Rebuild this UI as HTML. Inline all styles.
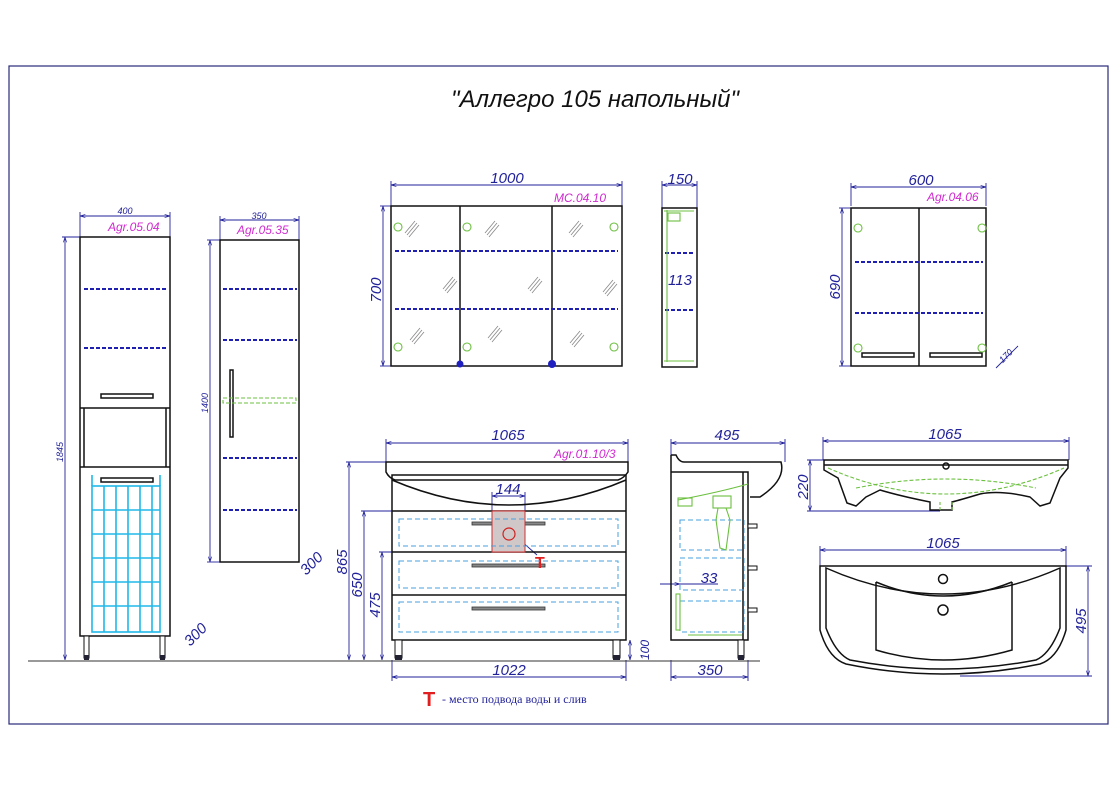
<!DOCTYPE html>
<html><head><meta charset="utf-8"><style>
html,body{margin:0;padding:0;background:#fff;}
svg{display:block;}
text{font-family:"Liberation Sans",sans-serif;font-style:italic;}
</style></head><body>
<svg width="1117" height="789" viewBox="0 0 1117 789" xmlns="http://www.w3.org/2000/svg">
<defs>
<marker id="a" viewBox="0 0 10 10" refX="10" refY="5" markerWidth="6" markerHeight="6" orient="auto-start-reverse"><path d="M0,2 L10,5 L0,8" fill="none" stroke="#22229a" stroke-width="1.2"/></marker>
</defs>
<rect x="9" y="66" width="1099" height="658" fill="none" stroke="#2a2a7a" stroke-width="1.2"/>
<text x="595" y="107" font-size="24" text-anchor="middle" fill="#111">"Аллегро 105 напольный"</text>

<g stroke="#22229a" stroke-width="0.9" fill="none">
<line x1="80" y1="216" x2="170" y2="216" marker-start="url(#a)" marker-end="url(#a)"/>
<line x1="80" y1="212" x2="80" y2="237"/><line x1="170" y1="212" x2="170" y2="237"/>
<line x1="65" y1="237" x2="65" y2="660" marker-start="url(#a)" marker-end="url(#a)"/>
<line x1="62" y1="237" x2="80" y2="237"/>
<line x1="220" y1="220" x2="299" y2="220" marker-start="url(#a)" marker-end="url(#a)"/>
<line x1="220" y1="216" x2="220" y2="240"/><line x1="299" y1="216" x2="299" y2="240"/>
<line x1="210" y1="240" x2="210" y2="562" marker-start="url(#a)" marker-end="url(#a)"/>
<line x1="207" y1="240" x2="220" y2="240"/><line x1="207" y1="562" x2="220" y2="562"/>
<line x1="391" y1="185" x2="622" y2="185" marker-start="url(#a)" marker-end="url(#a)"/>
<line x1="391" y1="181" x2="391" y2="206"/><line x1="622" y1="181" x2="622" y2="206"/>
<line x1="383" y1="206" x2="383" y2="366" marker-start="url(#a)" marker-end="url(#a)"/>
<line x1="380" y1="206" x2="391" y2="206"/><line x1="380" y1="366" x2="391" y2="366"/>
<line x1="662" y1="185" x2="697" y2="185" marker-start="url(#a)" marker-end="url(#a)"/>
<line x1="662" y1="181" x2="662" y2="208"/><line x1="697" y1="181" x2="697" y2="208"/>
<line x1="851" y1="187" x2="986" y2="187" marker-start="url(#a)" marker-end="url(#a)"/>
<line x1="851" y1="183" x2="851" y2="206"/><line x1="986" y1="183" x2="986" y2="206"/>
<line x1="842" y1="208" x2="842" y2="366" marker-start="url(#a)" marker-end="url(#a)"/>
<line x1="839" y1="208" x2="851" y2="208"/><line x1="839" y1="366" x2="851" y2="366"/>
<line x1="996" y1="368" x2="1018" y2="346"/>
<line x1="386" y1="443" x2="628" y2="443" marker-start="url(#a)" marker-end="url(#a)"/>
<line x1="386" y1="439" x2="386" y2="462"/><line x1="628" y1="439" x2="628" y2="462"/>
<line x1="349" y1="462" x2="349" y2="660" marker-start="url(#a)" marker-end="url(#a)"/>
<line x1="346" y1="462" x2="386" y2="462"/>
<line x1="364" y1="511" x2="364" y2="660" marker-start="url(#a)" marker-end="url(#a)"/>
<line x1="361" y1="511" x2="392" y2="511"/>
<line x1="382" y1="552" x2="382" y2="660" marker-start="url(#a)" marker-end="url(#a)"/>
<line x1="379" y1="552" x2="460" y2="552"/>
<line x1="630" y1="640" x2="630" y2="660" marker-start="url(#a)" marker-end="url(#a)"/>
<line x1="492" y1="496" x2="525" y2="496" marker-start="url(#a)" marker-end="url(#a)"/>
<line x1="492" y1="492" x2="492" y2="511"/><line x1="525" y1="492" x2="525" y2="511"/>
<line x1="392" y1="677" x2="626" y2="677" marker-start="url(#a)" marker-end="url(#a)"/>
<line x1="392" y1="660" x2="392" y2="681"/><line x1="626" y1="660" x2="626" y2="681"/>
<line x1="520" y1="540" x2="537" y2="555"/>
<line x1="671" y1="443" x2="785" y2="443" marker-start="url(#a)" marker-end="url(#a)"/>
<line x1="671" y1="439" x2="671" y2="462"/><line x1="785" y1="439" x2="785" y2="462"/>
<line x1="671" y1="677" x2="748" y2="677" marker-start="url(#a)" marker-end="url(#a)"/>
<line x1="671" y1="660" x2="671" y2="681"/><line x1="748" y1="660" x2="748" y2="681"/>
<line x1="660" y1="584" x2="680" y2="584" marker-end="url(#a)"/>
<line x1="680" y1="584" x2="718" y2="584"/>
<line x1="823" y1="441" x2="1069" y2="441" marker-start="url(#a)" marker-end="url(#a)"/>
<line x1="823" y1="437" x2="823" y2="460"/><line x1="1069" y1="437" x2="1069" y2="460"/>
<line x1="810" y1="460" x2="810" y2="511" marker-start="url(#a)" marker-end="url(#a)"/>
<line x1="807" y1="460" x2="824" y2="460"/><line x1="807" y1="511" x2="940" y2="511"/>
<line x1="820" y1="550" x2="1066" y2="550" marker-start="url(#a)" marker-end="url(#a)"/>
<line x1="820" y1="546" x2="820" y2="566"/><line x1="1066" y1="546" x2="1066" y2="566"/>
<line x1="1088" y1="566" x2="1088" y2="676" marker-start="url(#a)" marker-end="url(#a)"/>
<line x1="1066" y1="566" x2="1092" y2="566"/><line x1="960" y1="676" x2="1092" y2="676"/>
</g>

<g fill="#22229a" font-size="15">
<text x="125" y="214" font-size="9" text-anchor="middle">400</text>
<text transform="translate(63,452) rotate(-90)" font-size="9" text-anchor="middle">1845</text>
<text x="259" y="219" font-size="9" text-anchor="middle">350</text>
<text transform="translate(208,403) rotate(-90)" font-size="9" text-anchor="middle">1400</text>
<text transform="translate(199,638) rotate(-45)" text-anchor="middle">300</text>
<text transform="translate(315,567) rotate(-45)" text-anchor="middle">300</text>
<text x="507" y="183" text-anchor="middle">1000</text>
<text transform="translate(381,290) rotate(-90)" text-anchor="middle">700</text>
<text x="680" y="184" text-anchor="middle">150</text>
<text x="680" y="285" text-anchor="middle">113</text>
<text x="921" y="185" text-anchor="middle">600</text>
<text transform="translate(840,287) rotate(-90)" text-anchor="middle">690</text>
<text transform="translate(1008,358) rotate(-45)" font-size="9" text-anchor="middle">170</text>
<text x="508" y="440" text-anchor="middle">1065</text>
<text x="508" y="494" text-anchor="middle">144</text>
<text transform="translate(347,562) rotate(-90)" text-anchor="middle">865</text>
<text transform="translate(362,585) rotate(-90)" text-anchor="middle">650</text>
<text transform="translate(380,605) rotate(-90)" text-anchor="middle">475</text>
<text transform="translate(649,650) rotate(-90)" font-size="12" text-anchor="middle">100</text>
<text x="509" y="675" text-anchor="middle">1022</text>
<text x="727" y="440" text-anchor="middle">495</text>
<text x="709" y="583" text-anchor="middle">33</text>
<text x="710" y="675" text-anchor="middle">350</text>
<text x="945" y="439" text-anchor="middle">1065</text>
<text transform="translate(808,487) rotate(-90)" text-anchor="middle">220</text>
<text x="943" y="548" text-anchor="middle">1065</text>
<text transform="translate(1086,621) rotate(-90)" text-anchor="middle">495</text>
</g>
<g fill="#d02ad0" font-size="12">
<text x="237" y="234">Agr.05.35</text>
<text x="108" y="231">Agr.05.04</text>
<text x="554" y="202">MC.04.10</text>
<text x="927" y="201">Agr.04.06</text>
<text x="554" y="458">Agr.01.10/3</text>
</g>

<line x1="28" y1="661" x2="760" y2="661" stroke="#333" stroke-width="1"/>

<g stroke="#111" stroke-width="1.5" fill="none">
<rect x="80" y="237" width="90" height="399"/>
<line x1="80" y1="408" x2="170" y2="408"/><line x1="80" y1="467" x2="170" y2="467"/>
<line x1="84" y1="408" x2="84" y2="467"/><line x1="166" y1="408" x2="166" y2="467"/>
<rect x="101" y="394" width="52" height="4"/>
<rect x="101" y="478" width="52" height="4"/>
<rect x="220" y="240" width="79" height="322"/>
<rect x="230" y="370" width="3" height="67"/>
<rect x="391" y="206" width="231" height="160"/>
<line x1="460" y1="206" x2="460" y2="366"/><line x1="552" y1="206" x2="552" y2="366"/>
<rect x="662" y="208" width="35" height="159"/>
<rect x="851" y="208" width="135" height="158"/>
<line x1="919" y1="208" x2="919" y2="366"/>
<rect x="862" y="353" width="52" height="4"/><rect x="930" y="353" width="52" height="4"/>
<path d="M386,462 L628,462 L628,472 Q624,478 618,480 L395,480 Q389,478 386,472 Z"/>
<rect x="392" y="475" width="234" height="165"/>
<path d="M392,480 Q509,530 626,480"/>
<line x1="392" y1="511" x2="626" y2="511"/><line x1="392" y1="552" x2="626" y2="552"/><line x1="392" y1="595" x2="626" y2="595"/>
<path d="M671,455 L671,472 L748,472 L748,640 L671,640 Z"/>
<path d="M671,455 L676,455 Q679,462 684,462 L781,462 Q786,480 760,497 L750,497"/>
<line x1="743" y1="472" x2="743" y2="640"/>
<path d="M824,460 L1068,460 L1068,468 L1060,478 L1050,503 L1040,506 L1030,497 Q1000,490 980,494 Q960,500 952,502 L952,510 L930,510 L930,502 Q900,496 880,490 L866,497 L856,506 L847,503 L838,478 L824,470 Z"/>
<line x1="824" y1="465" x2="1068" y2="465"/>
<circle cx="946" cy="466" r="3"/>
<path d="M820,566 L1066,566 L1066,630 Q1058,658 1040,664 Q943,684 846,664 Q828,658 820,630 Z"/>
<path d="M826,568 Q943,620 1060,568 L1060,628 Q1050,654 1036,660 Q943,678 850,660 Q836,654 826,628 Z"/>
<path d="M876,582 L876,650 Q943,670 1012,650 L1012,582"/>
<path d="M876,582 Q943,610 1012,582"/>
<circle cx="943" cy="579" r="4.5"/><circle cx="943" cy="610" r="5"/>
</g>
<g fill="#fff" stroke="#111" stroke-width="1">
<rect x="84" y="636" width="5" height="22"/><rect x="160" y="636" width="5" height="22"/>
<rect x="395" y="640" width="7" height="18"/><rect x="613" y="640" width="7" height="18"/>
<rect x="738" y="640" width="6" height="18"/>
<rect x="748" y="524" width="9" height="4"/><rect x="748" y="566" width="9" height="4"/><rect x="748" y="608" width="9" height="4"/>
</g>
<g fill="#223">
<rect x="84" y="655" width="5" height="5"/><rect x="160" y="655" width="5" height="5"/>
<rect x="395" y="655" width="7" height="5"/><rect x="613" y="655" width="7" height="5"/><rect x="738" y="655" width="6" height="5"/>
</g>
<g fill="#888" stroke="#333" stroke-width="0.8">
<rect x="472" y="522" width="73" height="3"/><rect x="472" y="564" width="73" height="3"/><rect x="472" y="607" width="73" height="3"/>
</g>
<rect x="492" y="511" width="33" height="41" fill="#d0c8c8" stroke="#d03030" stroke-width="1"/>
<circle cx="509" cy="534" r="6" fill="none" stroke="#d02020" stroke-width="1.2"/>
<text x="535" y="568" font-size="16" font-weight="bold" fill="#e02020" style="font-style:normal">T</text>
<text x="423" y="706" font-size="20" font-weight="bold" fill="#e02020" style="font-style:normal">T</text>
<text x="442" y="703" font-size="12" fill="#22229a" style="font-family:'Liberation Serif',serif;font-style:normal">- место подвода воды и слив</text>

<g stroke="#2020b0" stroke-width="2" stroke-dasharray="4,2">
<line x1="84" y1="289" x2="167" y2="289"/><line x1="84" y1="348" x2="167" y2="348"/>
<line x1="223" y1="289" x2="297" y2="289"/><line x1="223" y1="340" x2="297" y2="340"/>
<line x1="223" y1="458" x2="297" y2="458"/><line x1="223" y1="510" x2="297" y2="510"/>
<line x1="395" y1="251" x2="618" y2="251"/><line x1="395" y1="309" x2="618" y2="309"/>
<line x1="665" y1="253" x2="695" y2="253"/><line x1="665" y1="310" x2="695" y2="310"/>
<line x1="855" y1="262" x2="983" y2="262"/><line x1="855" y1="313" x2="983" y2="313"/>
</g>
<g stroke="#4aa0e0" stroke-width="1" stroke-dasharray="5,3" fill="none">
<rect x="399" y="519" width="219" height="27"/><rect x="399" y="561" width="219" height="27"/><rect x="399" y="602" width="219" height="30"/>
<rect x="680" y="520" width="64" height="30"/><rect x="680" y="558" width="64" height="32"/><rect x="680" y="601" width="64" height="31"/>
</g>
<g stroke="#20b8e8" stroke-width="1.6" fill="none">
<rect x="92" y="486" width="68" height="146"/>
<path d="M92,475 L92,486 M160,475 L160,486"/>
<path d="M104,486V632M116,486V632M128,486V632M140,486V632M152,486V632"/>
<path d="M92,510H160M92,534H160M92,558H160M92,582H160M92,606H160"/>
</g>
<g stroke="#6cc040" stroke-width="1.1" fill="none">
<rect x="223" y="398" width="73" height="5" stroke-dasharray="4,2"/>
<circle cx="398" cy="227" r="4"/><circle cx="467" cy="227" r="4"/><circle cx="614" cy="227" r="4"/>
<circle cx="398" cy="347" r="4"/><circle cx="467" cy="347" r="4"/><circle cx="614" cy="347" r="4"/>
<circle cx="858" cy="228" r="4"/><circle cx="982" cy="228" r="4"/><circle cx="858" cy="348" r="4"/><circle cx="982" cy="348" r="4"/>
<line x1="667" y1="210" x2="667" y2="362"/><line x1="664" y1="211" x2="694" y2="211"/><line x1="664" y1="361" x2="694" y2="361"/>
<rect x="668" y="213" width="12" height="8"/>
<path d="M678,500 Q720,492 748,484"/><rect x="678" y="498" width="14" height="8"/>
<rect x="713" y="496" width="18" height="12"/><path d="M718,508 L716,520 L720,548 L726,550 L730,520 L726,508"/>
<rect x="676" y="594" width="4" height="36"/><line x1="688" y1="635" x2="742" y2="635"/>
<path d="M828,468 Q946,520 1064,468" stroke-dasharray="4,2"/>
<path d="M856,488 Q946,470 1036,488" stroke-dasharray="4,2"/>
<path d="M940,502 L940,512 M952,502 L952,512" stroke-dasharray="3,2"/>
</g>
<circle cx="460" cy="364" r="3.5" fill="#2020c0"/><circle cx="552" cy="364" r="4" fill="#2020c0"/>
<g stroke="#888" stroke-width="0.8">
<path d="M405,233l10,-12M407,235l10,-12M409,237l10,-12"/>
<path d="M485,233l10,-12M487,235l10,-12M489,237l10,-12"/>
<path d="M569,233l10,-12M571,235l10,-12M573,237l10,-12"/>
<path d="M443,289l10,-12M445,291l10,-12M447,293l10,-12"/>
<path d="M528,289l10,-12M530,291l10,-12M532,293l10,-12"/>
<path d="M603,292l10,-12M605,294l10,-12M607,296l10,-12"/>
<path d="M410,340l10,-12M412,342l10,-12M414,344l10,-12"/>
<path d="M488,338l10,-12M490,340l10,-12M492,342l10,-12"/>
<path d="M570,343l10,-12M572,345l10,-12M574,347l10,-12"/>
</g>
</svg>
</body></html>
